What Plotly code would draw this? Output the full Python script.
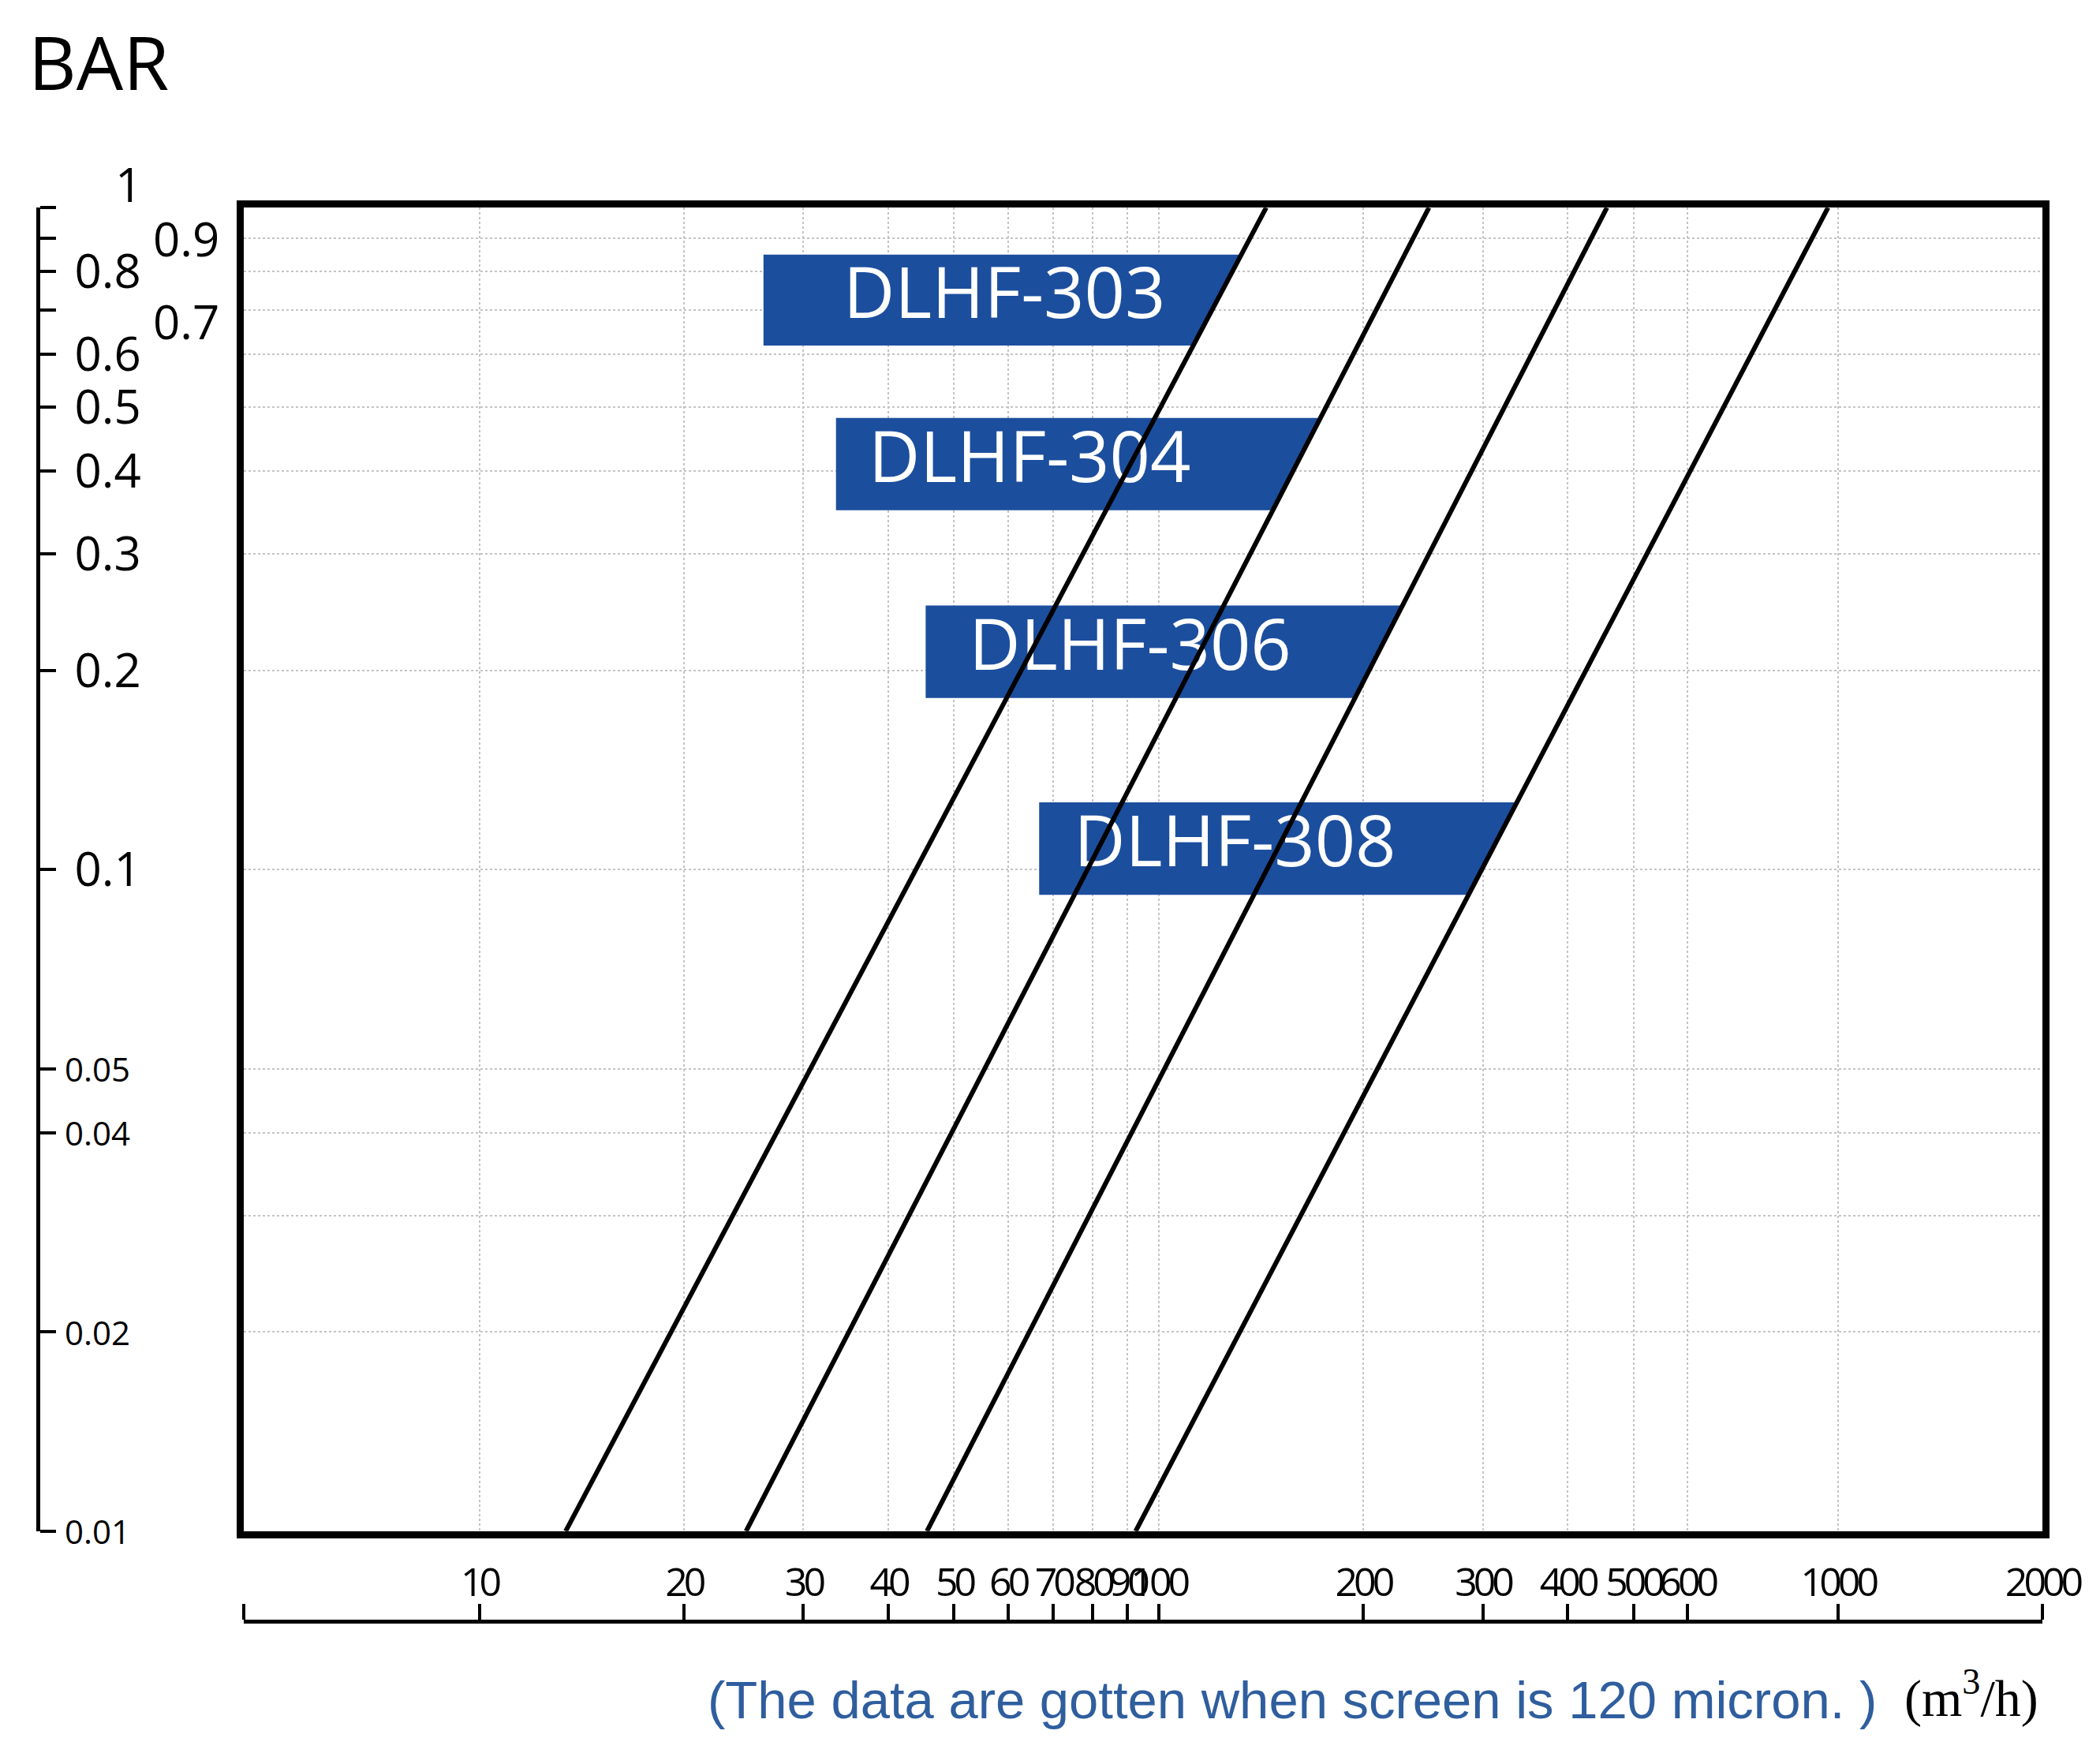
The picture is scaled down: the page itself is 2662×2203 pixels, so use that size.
import numpy as np
import plotly.graph_objects as go

# ---------------- data ----------------
models = ["DLHF-303", "DLHF-304", "DLHF-306", "DLHF-308"]
pressure_bar = [0.01, 1.0]                 # BAR at the two ends of each line
flow_303 = [13.4, 144.0]                   # m3/h
flow_304 = [24.7, 250.0]
flow_306 = [45.6, 457.0]
flow_308 = [92.5, 967.0]
flows = [flow_303, flow_304, flow_306, flow_308]

x_tick_vals = [10, 20, 30, 40, 50, 60, 70, 80, 90, 100, 200, 300, 400, 500, 600, 1000, 2000]
x_tick_text = ["10", "20", "30", "40", "50", "60", "70", "80", "90", "100",
               "200", "300", "400", "500", "600", "1000", "2000"]
x_grid_vals = [10, 20, 30, 40, 50, 60, 70, 80, 90, 100, 200, 300, 400, 500, 600, 1000]

y_tick_vals = [1, 0.9, 0.8, 0.7, 0.6, 0.5, 0.4, 0.3, 0.2, 0.1, 0.05, 0.04, 0.02, 0.01]
y_tick_text = ["1", "0.9", "0.8", "0.7", "0.6", "0.5", "0.4", "0.3", "0.2", "0.1",
               "0.05", "0.04", "0.02", "0.01"]
y_grid_vals = [0.9, 0.8, 0.7, 0.6, 0.5, 0.4, 0.3, 0.2, 0.1, 0.05, 0.04, 0.03, 0.02]

# ---------------- layout settings (positions of the label boxes) ----------------
box_left = [26.2, 33.5, 45.4, 66.7]
box_bottom = [0.619, 0.349, 0.1815, 0.0915]
box_top = [0.849, 0.481, 0.2505, 0.1263]
text_x = [59.3, 64.6, 90.8, 129.5]

# figure size (page body has an 8px margin)
W, H = 2646, 2187
SX, SY = 2662 / 1568.0, 2203 / 1297.4     # reference measured in a 1568-wide view


def fx(d):
    return (d * SX - 8) / W


def fy(d):
    return 1 - (d * SY - 8) / H


BLUE = "#1C4E9E"
X_RANGE = [np.log10(4.5), np.log10(2000)]
Y_RANGE = [-2, 0]
X_DOMAIN = [fx(182), fx(1525)]
Y_DOMAIN = [fy(1143), fy(155)]


def line_x_at(flow, y):
    lx = np.log10(flow)
    ly = np.log10(pressure_bar)
    return 10 ** np.interp(np.log10(y), ly, lx)


fig = go.Figure()

# label boxes (right edge follows each line)
for i, name in enumerate(models):
    xr_top = line_x_at(flows[i], box_top[i])
    xr_bot = line_x_at(flows[i], box_bottom[i])
    fig.add_trace(go.Scatter(
        x=[box_left[i], box_left[i], xr_top, xr_bot, box_left[i]],
        y=[box_bottom[i], box_top[i], box_top[i], box_bottom[i], box_bottom[i]],
        mode="lines", fill="toself", fillcolor=BLUE, line=dict(width=0, color=BLUE),
        hoverinfo="skip", showlegend=False))
    fig.add_trace(go.Scatter(
        x=[text_x[i]], y=[np.sqrt(box_top[i] * box_bottom[i])],
        mode="text", text=[name],
        textfont=dict(family="Open Sans, Noto Sans, sans-serif", size=90, color="white"),
        hoverinfo="skip", showlegend=False))

# the four lines
for i, name in enumerate(models):
    fig.add_trace(go.Scatter(
        x=flows[i], y=pressure_bar, mode="lines", name=name,
        line=dict(color="black", width=6), showlegend=False))

# dummy trace for the detached axes
fig.add_trace(go.Scatter(x=[10], y=[0.1], xaxis="x2", yaxis="y2", mode="markers",
                         marker=dict(opacity=0), hoverinfo="skip", showlegend=False))

# labels drawn separately as annotations: 1, 0.9, 0.7 (offset) and the small ones
offset_labels = {"1": (96, 30), "0.9": (139, 0), "0.7": (139, -14)}
y2_text = []
small_labels = []
for v, t in zip(y_tick_vals, y_tick_text):
    if t in offset_labels or v < 0.09:
        y2_text.append(" ")
        if v < 0.09:
            small_labels.append((v, t))
    else:
        y2_text.append(t)

narrow = lambda s: '<span style="letter-spacing:-5px">%s</span>' % s
x2_text = [" "] + [narrow(t) for t in x_tick_text]

tick_font = dict(family="Open Sans, Noto Sans, sans-serif", size=60, color="black")

fig.update_layout(
    width=W, height=H, margin=dict(l=0, r=0, t=0, b=0, autoexpand=False),
    paper_bgcolor="white", plot_bgcolor="white",
    xaxis=dict(type="log", range=X_RANGE, domain=X_DOMAIN,
               tickvals=x_grid_vals, showticklabels=False, ticks="",
               showgrid=True, gridcolor="#c4c4c4", gridwidth=2, griddash="dot",
               showline=True, mirror=True, linecolor="black", linewidth=9),
    yaxis=dict(type="log", range=Y_RANGE, domain=Y_DOMAIN,
               tickvals=y_grid_vals, showticklabels=False, ticks="",
               showgrid=True, gridcolor="#c4c4c4", gridwidth=2, griddash="dot",
               showline=True, mirror=True, linecolor="black", linewidth=9),
    xaxis2=dict(type="log", range=X_RANGE, domain=X_DOMAIN, overlaying="x",
                anchor="free", position=fy(1210), side="top",
                tickvals=[4.5] + x_tick_vals, ticktext=x2_text, tickangle=0,
                ticks="outside", ticklen=20, tickwidth=4, tickcolor="black",
                showline=True, linecolor="black", linewidth=5, showgrid=False,
                ticklabelstandoff=-10,
                tickfont=dict(family="Open Sans, Noto Sans, sans-serif",
                              size=50, color="black")),
    yaxis2=dict(type="log", range=Y_RANGE, domain=Y_DOMAIN, overlaying="y",
                anchor="free", position=fx(28), side="right",
                tickvals=y_tick_vals, ticktext=y2_text,
                ticks="outside", ticklen=20, tickwidth=4, tickcolor="black",
                showline=True, linecolor="black", linewidth=5, showgrid=False,
                ticklabelstandoff=12, tickfont=tick_font),
    showlegend=False,
)

ann_font = dict(family="Open Sans, Noto Sans, sans-serif", size=60, color="black")
for t, (xd, ys) in offset_labels.items():
    fig.add_annotation(text=t, xref="paper", yref="y", x=fx(xd), y=np.log10(float(t)),
                       yshift=ys, xanchor="center", yanchor="middle", showarrow=False,
                       font=ann_font)
for v, t in small_labels:
    fig.add_annotation(text=t, xref="paper", yref="y", x=fx(47), y=np.log10(v),
                       xanchor="left", yanchor="middle", showarrow=False,
                       font=dict(family="Open Sans, Noto Sans, sans-serif", size=42,
                                 color="black"))

fig.add_annotation(text="BAR", xref="paper", yref="paper", x=fx(20), y=fy(46),
                   xanchor="left", yanchor="middle", showarrow=False,
                   font=dict(family="Open Sans, Noto Sans, sans-serif", size=94, color="black"))
fig.add_annotation(text="(The data are gotten when screen is 120 micron. )",
                   xref="paper", yref="paper", x=fx(965), y=fy(1269),
                   xanchor="center", yanchor="middle", showarrow=False,
                   font=dict(family="Liberation Sans, Arial, sans-serif", size=67, color="#2F5E9E"))
fig.add_annotation(text="(m<sup>3</sup>/h)",
                   xref="paper", yref="paper", x=fx(1472), y=fy(1265),
                   xanchor="center", yanchor="middle", showarrow=False,
                   font=dict(family="Liberation Serif, DejaVu Serif, serif", size=66, color="black"))

fig.write_html("out.html")
